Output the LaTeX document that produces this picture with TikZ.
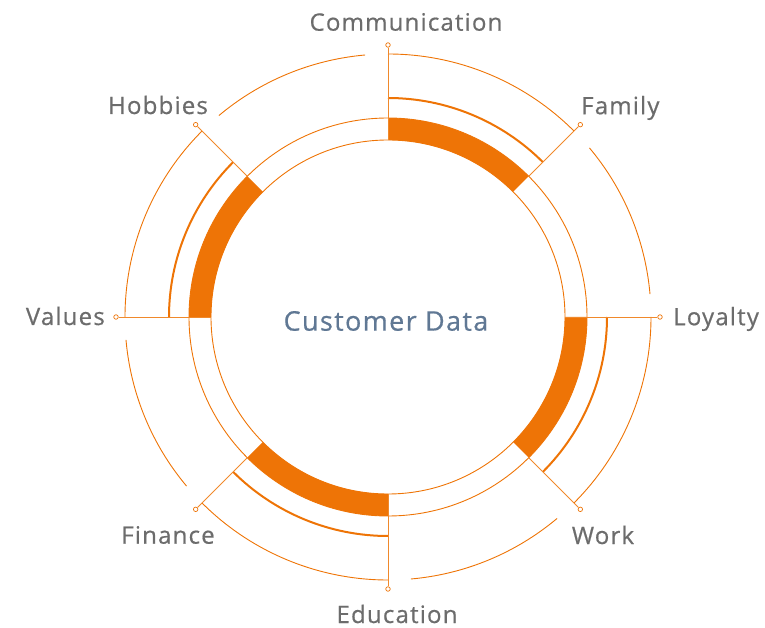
\documentclass[tikz,border=0pt]{standalone}
\usepackage{fontspec}
\setmainfont{Open Sans}[LetterSpace=5,FakeBold=0.6]
\definecolor{cdorange}{RGB}{238,116,6}
\definecolor{cdgray}{RGB}{108,108,108}
\definecolor{cdblue}{RGB}{96,120,148}
\tikzset{
  ring/.style={cdorange,line width=0.9pt},
  arcm/.style={cdorange,line width=2pt},
  spoke/.style={cdorange!85,line width=0.9pt},
  pin/.style={circle,draw=cdorange,line width=0.7pt,inner sep=0pt,minimum size=4.5pt,fill=white},
  lbl/.style={text=cdgray,font=\fontsize{24}{26}\selectfont,inner sep=0pt}
}
\newcommand{\band}[1]{\fill[cdorange] (#1:177) arc[start angle=#1,delta angle=-45,radius=177] -- (#1-45:199) arc[start angle=#1-45,delta angle=45,radius=199] -- cycle;}

\begin{document}
\begin{tikzpicture}[x=1pt,y=1pt]
\useasboundingbox (-388,-311) rectangle (377,317);
% two thin rings
\draw[ring] (0,0) circle[radius=177];
\draw[ring] (0,0) circle[radius=199];
% filled sectors with their arcs
\foreach \a in {90,0,-90,180}{
  \band{\a}
  \draw[arcm] (\a:219) arc[start angle=\a,delta angle=-45,radius=219];
  \draw[ring] (\a:263) arc[start angle=\a,delta angle=-45,radius=263];
}
% loose outer arcs
\foreach \a in {45,-45,-135,135}
  \draw[ring] (\a-5:263) arc[start angle=\a-5,delta angle=-35,radius=263];
% spokes and pins
\foreach \a/\n/\r in {90/comm/177,45/fam/199,0/loy/177,-45/work/199,-90/edu/177,-135/fin/199,180/val/177,135/hob/199}{
  \coordinate (\n-in) at (\a:\r);
  \node[pin] (\n) at (\a:272) {};
  \draw[spoke] (\n) -- (\n-in);
}
% labels
\node[lbl] (comm-l) at (18,295) {Communication};
\node[lbl,anchor=west] (fam-l) at (193,209) {Family};
\node[lbl,anchor=west] (loy-l) at (285,-2) {Loyalty};
\node[lbl] (work-l) at (215,-218) {Work};
\node[lbl] (edu-l) at (9,-297) {Education};
\node[lbl] (fin-l) at (-220,-218) {Finance};
\node[lbl,anchor=east] (val-l) at (-283,1) {Values};
\node[lbl] (hob-l) at (-230,212) {Hobbies};
\node[text=cdblue,font=\fontsize{27}{29}\selectfont] (data) at (-2,-4) {Customer Data};
\end{tikzpicture}
\end{document}
